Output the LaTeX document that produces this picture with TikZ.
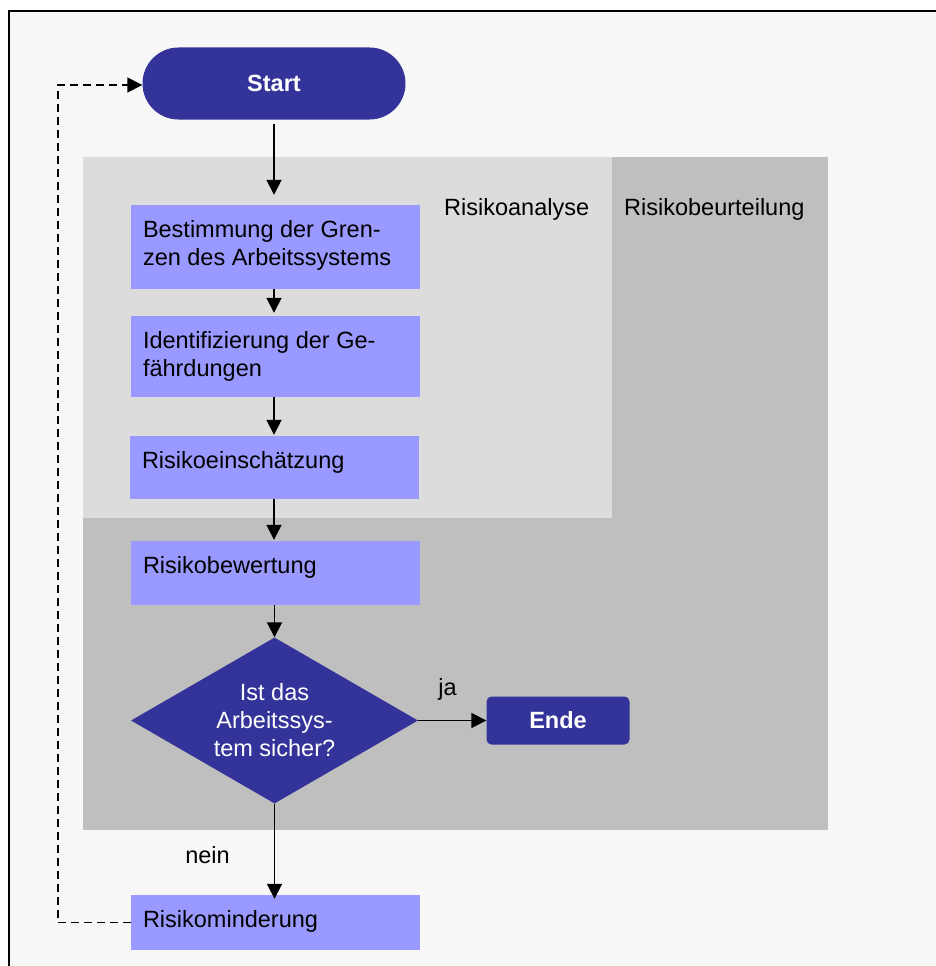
\documentclass[tikz,border=0pt]{standalone}
\usepackage{fontspec}
\setmainfont{Liberation Sans}
\usetikzlibrary{arrows.meta,shapes.geometric,shapes.misc}

\definecolor{navyblau}{HTML}{333399}
\definecolor{prozessblau}{HTML}{9999FF}
\definecolor{analysegrau}{HTML}{DCDCDC}
\definecolor{beurteilungsgrau}{HTML}{BFBFBF}
\definecolor{papier}{HTML}{F7F7F7}

\tikzset{
  txt/.style={font=\fontsize{23.5}{28}\selectfont},
  terminal/.style={rounded rectangle, fill=navyblau, text=white, inner sep=0pt,
    font=\fontsize{23.5}{28}\selectfont\bfseries},
  proc/.style={rectangle, fill=prozessblau, inner sep=0pt, minimum width=289pt,
    minimum height=#1},
  proclabel/.style={anchor=north west, inner sep=0pt, xshift=12pt, yshift=-15pt,
    align=left, txt},
  decision/.style={diamond, fill=navyblau, text=white, inner sep=0pt,
    aspect=1.73, minimum width=287pt, minimum height=166pt, align=center, txt},
  endbox/.style={rectangle, rounded corners=5pt, fill=navyblau, text=white,
    inner sep=0pt, minimum width=143pt, minimum height=48pt,
    font=\fontsize{23.5}{28}\selectfont\bfseries},
  flow/.style={line width=1.8pt, -{Triangle[length=15pt,width=15pt]}},
  loop/.style={line width=1.6pt, dash pattern=on 7.5pt off 5.5pt,
    -{Triangle[length=15pt,width=15pt]}},
}

\begin{document}
\begin{tikzpicture}[x=1pt,y=-1pt]
  \useasboundingbox (0,0) rectangle (936,966);
  \fill[white] (0,0) rectangle (936,966);
  % sheet with frame
  \filldraw[fill=papier, draw=black, line width=1.8pt] (9,11) rectangle (990,1010);

  % phase areas
  \fill[beurteilungsgrau] (83,157) rectangle (828,830);
  \fill[analysegrau] (83,157) rectangle (612,518);
  \node[txt, anchor=base west, inner sep=0pt] (lanalyse) at (444,215.5) {Risikoanalyse};
  \node[txt, anchor=base west, inner sep=0pt] (lbeurteilung) at (624,215.5) {Risikobeurteilung};

  % steps
  \node[terminal, minimum width=263pt, minimum height=72pt] (start) at (274,83.5) {Start};
  \node[proc=84pt, label={[proclabel]north west:Bestimmung der Gren-\\zen des Arbeitssystems}]
    (b1) at (275.5,247) {};
  \node[proc=81pt, label={[proclabel]north west:Identifizierung der Ge-\\fährdungen}]
    (b2) at (275.5,356.5) {};
  \node[proc=63pt, label={[proclabel]north west:Risikoeinschätzung}]
    (b3) at (274.5,467.5) {};
  \node[proc=64pt, label={[proclabel]north west:Risikobewertung}]
    (b4) at (275.5,573) {};
  \node[decision] (frage) at (274.5,720.5) {Ist das\\Arbeitssys-\\tem sicher?};
  \node[endbox] (ende) at (558,720.5) {Ende};
  \node[proc=55pt, label={[proclabel]north west:Risikominderung}]
    (rk) at (275.5,922.5) {};

  % connectors
  \draw[flow, shorten <=4pt, shorten >=10pt] (start.south) -- (start.south |- b1.north);
  \draw[flow, shorten >=3pt] (b1.south -| start.south) -- (start.south |- b2.north);
  \draw[flow, shorten >=1pt] (b2.south -| start.south) -- (start.south |- b3.north);
  \draw[flow, shorten >=1pt] (b3.south -| start.south) -- (start.south |- b4.north);
  \draw[flow] (b4.south -| frage.north) -- (frage.north);
  \draw[flow] (frage.east) -- (frage.east -| ende.west);
  \draw[flow, shorten >=-4pt] (frage.south) -- (frage.south |- rk.north);
  \draw[loop] (rk.west) -- ++(-73,0) |- ([yshift=-1.5pt]start.west);

  % branch labels
  \node[txt, anchor=base, inner sep=0pt] (lja) at (447.5,695) {ja};
  \node[txt, anchor=base, inner sep=0pt] (lnein) at (207.5,863) {nein};
\end{tikzpicture}
\end{document}
